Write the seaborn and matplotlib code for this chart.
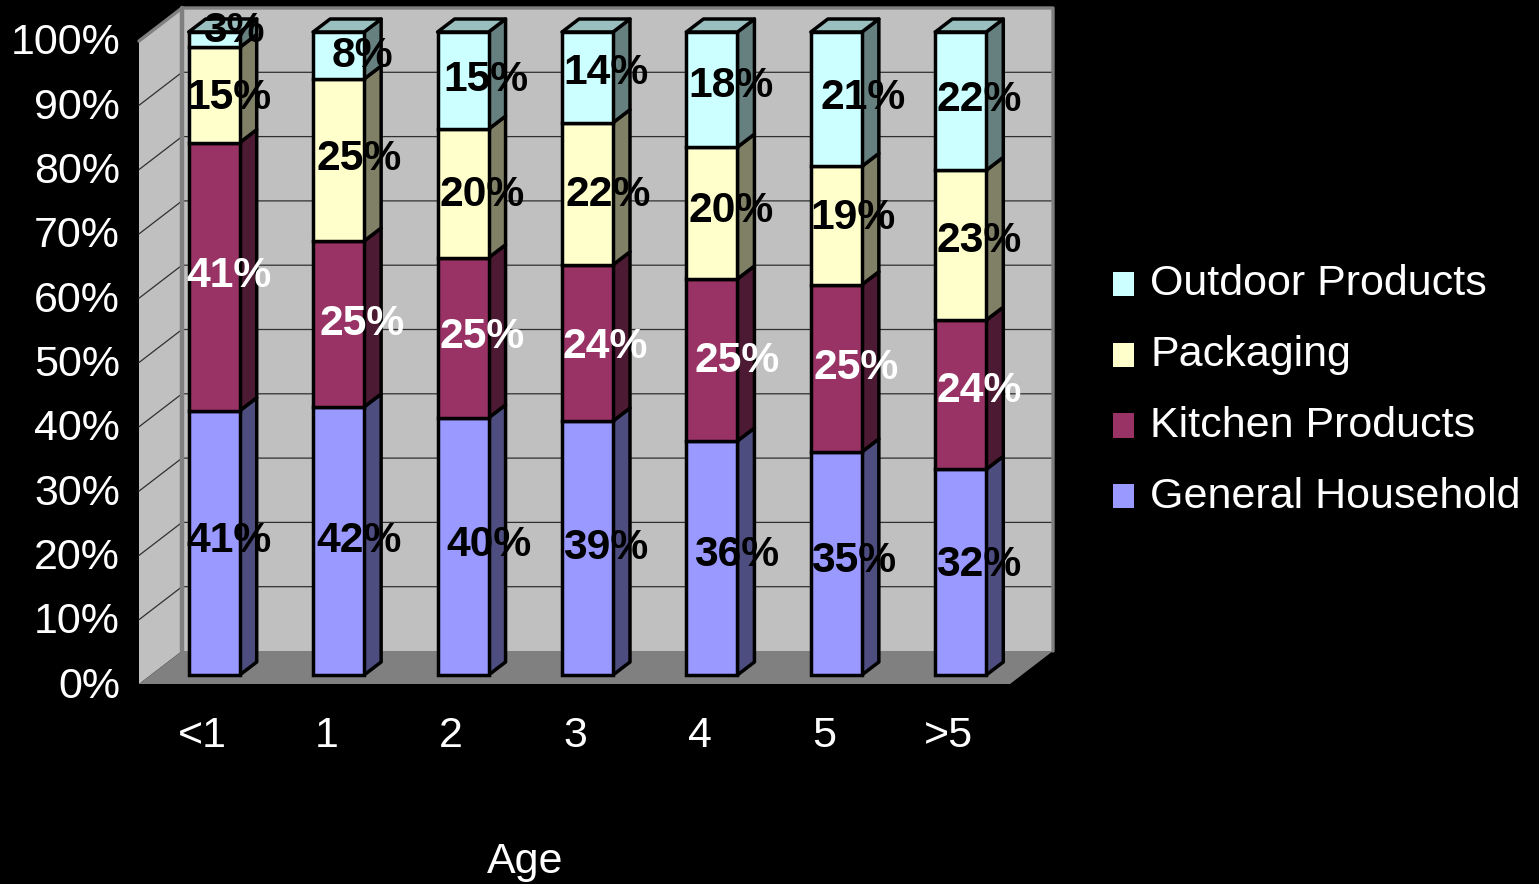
#!/usr/bin/env python3
import matplotlib
matplotlib.use('Agg')
import matplotlib.pyplot as plt
import matplotlib.transforms as mtransforms
from matplotlib.patches import Patch
import pandas as pd
import seaborn as sns

AGES = ['<1', '1', '2', '3', '4', '5', '>5']
SERIES = ['General Household', 'Kitchen Products', 'Packaging', 'Outdoor Products']

GENERAL = [41.1, 41.7, 40.0, 39.5, 36.4, 34.7, 32.0]
KITCHEN = [41.7, 25.8, 24.9, 24.3, 25.2, 26.0, 23.2]
PACKAGING = [14.8, 25.2, 20.0, 22.1, 20.5, 18.4, 23.3]
OUTDOOR = [2.4, 7.3, 15.1, 14.1, 17.9, 20.9, 21.5]

GENERAL_LABELS = ['41%', '42%', '40%', '39%', '36%', '35%', '32%']
KITCHEN_LABELS = ['41%', '25%', '25%', '24%', '25%', '25%', '24%']
PACKAGING_LABELS = ['15%', '25%', '20%', '22%', '20%', '19%', '23%']
OUTDOOR_LABELS = ['3%', '8%', '15%', '14%', '18%', '21%', '22%']

# where the chart put each data label: height in %, x shift from bar centre in px
GENERAL_LABEL_Y = [20.8, 20.8, 20.2, 19.7, 18.7, 17.8, 17.1]
KITCHEN_LABEL_Y = [62.1, 54.6, 52.6, 51.0, 48.8, 47.8, 44.2]
PACKAGING_LABEL_Y = [89.8, 80.3, 74.7, 74.7, 72.1, 71.0, 67.5]
OUTDOOR_LABEL_Y = [100.2, 96.3, 92.6, 93.6, 91.6, 89.8, 89.5]
GENERAL_LABEL_DX = [15, 20, 26, 18, 25, 17, 18]
KITCHEN_LABEL_DX = [15, 23, 19, 18, 25, 20, 18]
PACKAGING_LABEL_DX = [15, 20, 19, 21, 19, 17, 18]
OUTDOOR_LABEL_DX = [20, 24, 23, 18, 19, 27, 18]

FRONT = {'General Household': '#9999FF', 'Kitchen Products': '#993366',
         'Packaging': '#FFFFCC', 'Outdoor Products': '#CCFFFF'}
SIDE = {'General Household': '#4D4D80', 'Kitchen Products': '#4D1A33',
        'Packaging': '#808066', 'Outdoor Products': '#668080'}
TOP_FACE = '#99BFBF'
WALL = '#C0C0C0'
FLOOR = '#808080'

W, H = 1539, 884
UX = 871 / 7      # px per category
UY = 643 / 100    # px per percent

sns.set_theme(style='white')
plt.rcParams['font.family'] = ['Liberation Sans', 'DejaVu Sans']

df = pd.DataFrame({'age': AGES, SERIES[0]: GENERAL, SERIES[1]: KITCHEN,
                   SERIES[2]: PACKAGING, SERIES[3]: OUTDOOR})

fig = plt.figure(figsize=(W / 100, H / 100), dpi=100, facecolor='black')
ax = fig.add_axes([152 / W, 1 - 675 / H, 871 / W, 643 / H], facecolor='none')


def off(x, y, dx, dy):
    return x + dx / UX, y + dy / UY


# walls and floor, offsets in px from the plane of the bars
xl, xr = -0.5, 6.5
fl = (-13, -9)
bk = (30, 24)
left_wall = [off(xl, 0, *fl), off(xl, 0, *bk), off(xl, 100, *bk), off(xl, 100, *fl)]
back_wall = [off(xl, 0, *bk), off(xr, 0, *bk), off(xr, 100, *bk), off(xl, 100, *bk)]
floor = [off(xl, 0, *fl), off(xr, 0, *fl), off(xr, 0, *bk), off(xl, 0, *bk)]
for poly, col in [(left_wall, WALL), (back_wall, WALL), (floor, FLOOR)]:
    ax.fill(*zip(*poly), facecolor=col, edgecolor='none', clip_on=False, zorder=0)
for y in range(10, 100, 10):
    a, b, c = off(xl, y, *fl), off(xl, y, *bk), off(xr, y, *bk)
    ax.plot([a[0], b[0], c[0]], [a[1], b[1], c[1]], color='#303030', lw=0.9,
            clip_on=False, zorder=1)
# wall borders
a, b, c, d = off(xl, 100, *fl), off(xl, 100, *bk), off(xr, 100, *bk), off(xr, 0, *bk)
ax.plot([a[0], b[0], c[0], d[0]], [a[1], b[1], c[1], d[1]], color=FLOOR, lw=2.4,
        clip_on=False, zorder=1)
a, b = off(xl, 0, *bk), off(xl, 100, *bk)
ax.plot([a[0], b[0]], [a[1], b[1]], color=FLOOR, lw=3.2, clip_on=False, zorder=1)

bottoms = [0.0] * len(AGES)
for name in SERIES:
    sns.barplot(data=df, x='age', y=name, order=AGES, bottom=bottoms, color=FRONT[name],
                saturation=1, width=51 / UX, edgecolor='black', linewidth=2.5,
                ax=ax, zorder=4, clip_on=False, errorbar=None)
    for rect in ax.containers[-1]:
        x1 = rect.get_x() + rect.get_width()
        y0, y1 = rect.get_y(), rect.get_y() + rect.get_height()
        side = [(x1, y0), off(x1, y0, 17, 13), off(x1, y1, 17, 13), (x1, y1)]
        ax.fill(*zip(*side), facecolor=SIDE[name], edgecolor='black', lw=2.5,
                joinstyle='round', clip_on=False, zorder=3)
    bottoms = [b + v for b, v in zip(bottoms, df[name])]

# top faces of the stacks
for i, top in enumerate(bottoms):
    x0, x1 = i - 25.5 / UX, i + 25.5 / UX
    face = [(x0, top), (x1, top), off(x1, top, 17, 13), off(x0, top, 17, 13)]
    ax.fill(*zip(*face), facecolor=TOP_FACE, edgecolor='black', lw=2.5,
            joinstyle='round', clip_on=False, zorder=3)

ax.set_xlim(xl, xr)
ax.set_ylim(0, 100)
sns.despine(ax=ax, left=True, bottom=True)

# tick labels sit on the front plane of the box, not on the plane of the bars
ax.set_yticks(range(0, 101, 10))
ax.set_yticklabels([f'{v}%' for v in range(0, 101, 10)], color='white', fontsize=31)
ax.set_xticks(range(len(AGES)))
ax.set_xticklabels(AGES, color='white', fontsize=31)
ax.tick_params(axis='both', length=0)
ax.tick_params(axis='y', pad=14.4)
ax.tick_params(axis='x', pad=24.3)
shift = mtransforms.Affine2D().translate(-12, -7)
for lab in ax.get_xticklabels() + ax.get_yticklabels():
    lab.set_transform(lab.get_transform() + shift)

ax.set_xlabel('Age', color='white', fontsize=31)
ax.set_ylabel('')
ax.xaxis.set_label_coords((525 - 152) / 871, (675 - 842) / 643)

label_sets = [
    (GENERAL_LABELS, GENERAL_LABEL_Y, GENERAL_LABEL_DX, 'black'),
    (KITCHEN_LABELS, KITCHEN_LABEL_Y, KITCHEN_LABEL_DX, 'white'),
    (PACKAGING_LABELS, PACKAGING_LABEL_Y, PACKAGING_LABEL_DX, 'black'),
    (OUTDOOR_LABELS, OUTDOOR_LABEL_Y, OUTDOOR_LABEL_DX, 'black'),
]
for labels, ys, dxs, col in label_sets:
    for i, (txt, y, dx) in enumerate(zip(labels, ys, dxs)):
        ax.text(i + dx / UX, y, txt, color=col, fontsize=30.7, fontweight='bold',
                ha='center', va='center', clip_on=False, zorder=6)

handles = [Patch(facecolor=FRONT[s], edgecolor='none', label=s) for s in reversed(SERIES)]
leg = fig.legend(handles=handles, loc='center left', bbox_to_anchor=(1113 / W, 1 - 390.5 / H),
                 frameon=False, fontsize=31, labelcolor='white', handlelength=0.49,
                 handleheight=0.49, handletextpad=0.38, labelspacing=0.714,
                 borderpad=0, borderaxespad=0)
# squares sit a little below the middle of the text
for patch in leg.get_patches():
    patch.set_y(patch.get_y() - 2.9)

fig.savefig('out.png', dpi=100, facecolor='black')
